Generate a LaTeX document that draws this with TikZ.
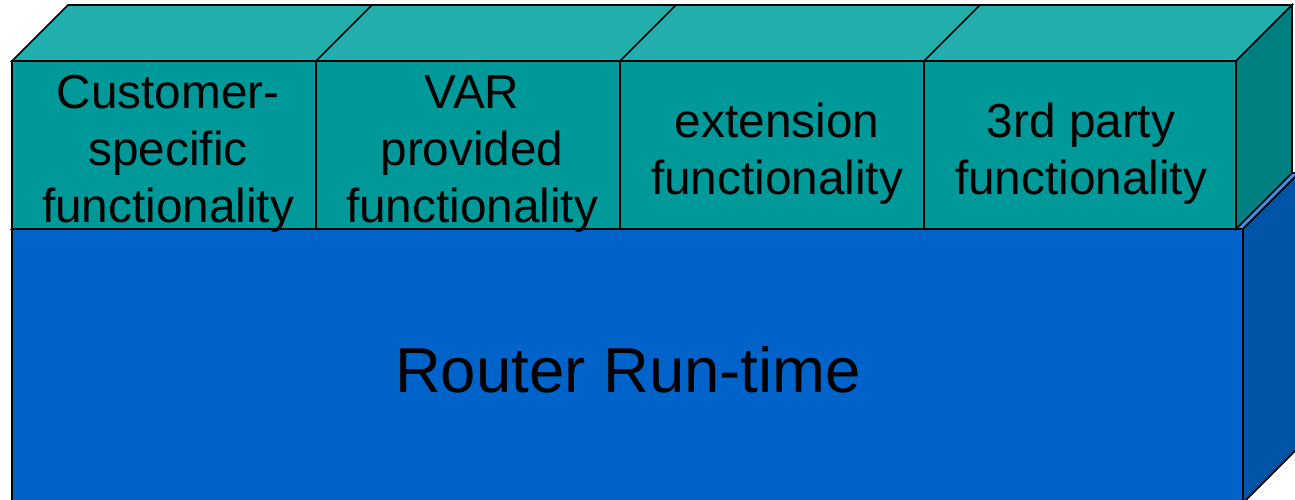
\documentclass[tikz,border=0pt]{standalone}
\usepackage{fontspec}
\setmainfont{Liberation Sans}
\definecolor{tealtop}{HTML}{22AEAC}
\definecolor{tealfront}{HTML}{009999}
\definecolor{tealside}{HTML}{008080}
\definecolor{bluefront}{HTML}{0063C9}
\definecolor{blueside}{HTML}{0055A8}
\definecolor{bluetop}{HTML}{3D8FE8}
\tikzset{
  edge/.style={draw=black, line width=1.6pt, line join=miter},
  modtext/.style={align=center, font=\fontsize{47.7}{57}\selectfont, inner sep=0pt},
  basetext/.style={font=\fontsize{63.5}{76}\selectfont, inner sep=0pt}
}
\begin{document}
\begin{tikzpicture}[x=1pt,y=-1pt]
\useasboundingbox (0,0) rectangle (1295,499);
\clip (0,0) rectangle (1295,499);
% base block: router run-time
\fill[bluetop, edge] (12,229) -- (68,173) -- (1299,173) -- (1243,229) -- cycle;
\fill[blueside, edge] (1243,229) -- (1299,173) -- (1299,447) -- (1243,503) -- cycle;
\fill[bluefront, edge] (12,229) rectangle (1243,503);
\node[basetext] (runtime) at (628,370) {Router Run-time};
% upper block: functionality modules
\fill[tealtop, edge] (12,61) -- (68,5) -- (1292,5) -- (1236,61) -- cycle;
\fill[tealside, edge] (1236,61) -- (1292,5) -- (1292,173) -- (1236,229) -- cycle;
\fill[tealfront, edge] (12,61) rectangle (1236,229);
\foreach \x in {316,620,924}{
  \draw[edge] (\x,229) -- (\x,61) -- (\x+56,5);
}
\node[modtext] (customer) at (168,154) {Customer-\\specific\\functionality};
\node[modtext] (var) at (472,154) {VAR\\provided\\functionality};
\node[modtext] (extension) at (777,154) {extension\\functionality};
\node[modtext] (thirdparty) at (1081,154) {3rd party\\functionality};
\end{tikzpicture}
\end{document}
